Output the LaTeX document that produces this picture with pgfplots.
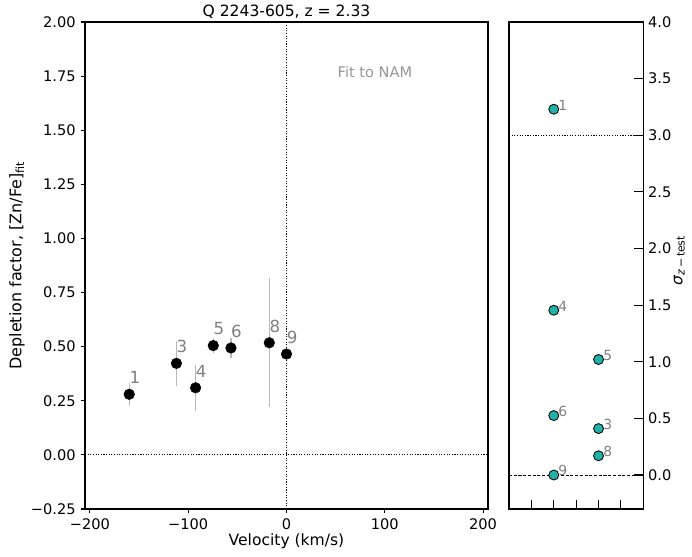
\documentclass[border=0pt]{standalone}
\usepackage{pgfplots}
\pgfplotsset{compat=1.18}
\usepackage{fontspec}
\setmainfont{DejaVu Sans}
\definecolor{teal1}{RGB}{32,178,170}
\definecolor{lblgray}{RGB}{128,128,128}
\definecolor{errgray}{RGB}{185,185,185}
\definecolor{fitgray}{RGB}{150,150,150}
\pgfplotstableread{
x y e l
-160 0.280 0.053 1
-112 0.423 0.104 3
-92.5 0.310 0.105 4
-74.5 0.505 0.034 5
-56.5 0.494 0.047 6
-17.5 0.518 0.298 8
0 0.466 0.015 9
}\leftdata
\pgfplotstableread{
x y l
2 3.23 1
2 1.455 4
4 1.02 5
2 0.525 6
4 0.41 3
4 0.17 8
2 0.0 9
}\rightdata
\begin{document}
\begin{tikzpicture}
\path[use as bounding box] (-61.2pt,-34.56pt) rectangle (437.04pt,366.48pt);
\begin{axis}[
  at={(0pt,0pt)}, anchor=south west,
  scale only axis, width=290.16pt, height=350.64pt,
  xmin=-205, xmax=205, ymin=-0.25, ymax=2.0,
  xtick={-200,-100,0,100,200},
  xticklabels={−200,−100,0,100,200},
  ytick={-0.25,0,0.25,0.5,0.75,1,1.25,1.5,1.75,2},
  yticklabels={−0.25,0.00,0.25,0.50,0.75,1.00,1.25,1.50,1.75,2.00},
  tick align=outside, xtick pos=left, ytick pos=left,
  major tick length=3.2pt,
  tick style={black, line width=0.8pt},
  axis line style={line width=0.8pt},
  tick label style={font=\fontsize{10.5}{12}\selectfont},
  every axis x label/.style={at={(axis description cs:0.5,-0.0657)}, anchor=center, font=\fontsize{11.2}{13}\selectfont},
  every axis y label/.style={at={(axis description cs:-0.169,0.5)}, anchor=center, rotate=90, font=\fontsize{11.5}{13}\selectfont},
  every axis title/.style={at={(axis description cs:0.5,1.0205)}, anchor=center, font=\fontsize{11.2}{13}\selectfont},
  xlabel={Velocity (km/s)},
  ylabel={Depletion factor, [Zn/Fe]\textsubscript{fit}},
  title={Q 2243-605, z = 2.33},
  clip=false,
]
\addplot[forget plot, black, line width=0.7pt, dash pattern=on 0.8pt off 1.1pt] coordinates {(-205,0) (205,0)};
\addplot[forget plot, black, line width=0.7pt, dash pattern=on 0.8pt off 1.1pt] coordinates {(0,-0.25) (0,2)};
\addplot[forget plot, only marks, mark=none, error bars/.cd, y dir=both, y explicit, error mark=none,
  error bar style={errgray, line width=0.8pt, solid}] table[x=x, y=y, y error=e] {\leftdata};
\addplot[only marks, mark=*, mark size=3.8pt, black] table[x=x, y=y] {\leftdata};
\addplot[only marks, mark=none, nodes near coords, point meta=explicit symbolic,
  nodes near coords style={anchor=base west, inner sep=0pt, xshift=0pt, yshift=7.7pt, text=lblgray, font=\fontsize{12}{14}\selectfont}]
  table[x=x, y=y, meta=l] {\leftdata};
\node[text=fitgray, font=\fontsize{10.5}{12}\selectfont] at (axis cs:90,1.77) {Fit to NAM};
\end{axis}
\begin{axis}[
  at={(305.28pt,0pt)}, anchor=south west,
  scale only axis, width=96.7pt, height=350.64pt,
  xmin=0, xmax=6, ymin=-0.3, ymax=4.0,
  xtick={0,1,2,3,4,5}, xticklabels={},
  ytick={0,0.5,1,1.5,2,2.5,3,3.5,4},
  yticklabels={0.0,0.5,1.0,1.5,2.0,2.5,3.0,3.5,4.0},
  tick align=inside, xtick pos=left, ytick pos=right, yticklabel pos=right,
  major tick length=6.8pt,
  tick style={black, line width=0.8pt},
  axis line style={line width=0.8pt},
  tick label style={font=\fontsize{10.5}{12}\selectfont},
  every axis y label/.style={at={(axis description cs:1.268,0.51)}, anchor=center, rotate=90, font=\fontsize{11.2}{13}\selectfont},
  ylabel={\textit{σ}\textsubscript{\textit{z}\,−\,test}},
  clip=false,
]
\addplot[forget plot, black, line width=0.7pt, dash pattern=on 0.8pt off 1.1pt] coordinates {(0,3) (6,3)};
\addplot[forget plot, black, line width=0.7pt, dash pattern=on 2.2pt off 1.2pt] coordinates {(0,0) (6,0)};
\addplot[only marks, mark=*, mark size=3.6pt, mark options={fill=teal1, draw=black, line width=0.6pt}] table[x=x, y=y] {\rightdata};
\addplot[only marks, mark=none, nodes near coords, point meta=explicit symbolic,
  nodes near coords style={anchor=base west, inner sep=0pt, xshift=3.2pt, yshift=-0.7pt, text=lblgray, font=\fontsize{10}{12}\selectfont}]
  table[x=x, y=y, meta=l] {\rightdata};
\end{axis}
\end{tikzpicture}
\end{document}
